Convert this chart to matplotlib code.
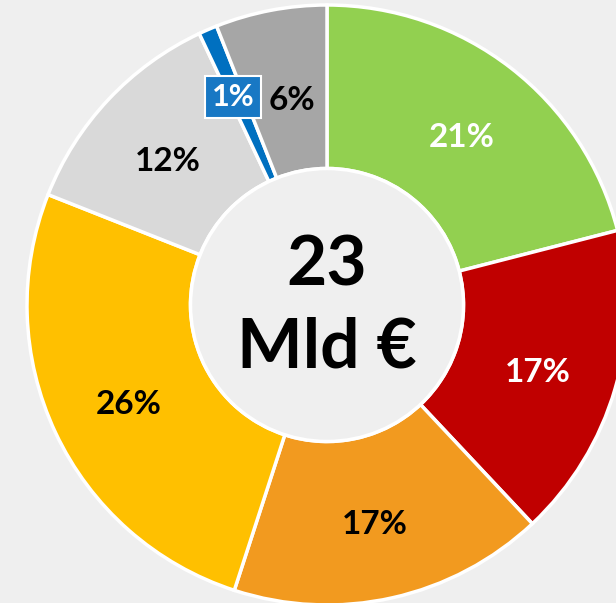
import matplotlib
matplotlib.use("Agg")
import matplotlib.pyplot as plt
from matplotlib.patches import Circle
import matplotlib.transforms as mtransforms

plt.rcParams['font.family'] = ['Lato', 'DejaVu Sans']

categories = ["A", "B", "C", "D", "E", "F", "G"]
values = [21, 17, 17, 26, 12, 1, 6]
colors = ["#92d050", "#c00000", "#f29a1f", "#ffc000", "#d9d9d9", "#0070c0", "#a6a6a6"]
label_colors = ["white", "white", "black", "black", "black", "white", "black"]
center_text = "23\nMld €"
bg = "#efefef"

fig = plt.figure(figsize=(6.16, 6.03), dpi=100, facecolor=bg)
ax = fig.add_axes([0, 0, 1, 1])
ax.set_facecolor(bg)

wedges, texts, autotexts = ax.pie(
    values, colors=colors, startangle=90, counterclock=False, radius=1.0,
    autopct=lambda p: f"{round(p)}%", pctdistance=0.73,
    wedgeprops=dict(width=0.545, edgecolor="white", linewidth=2.5),
    textprops=dict(fontsize=24, fontweight="bold"))

# pixel nudges of the data labels (label placement style)
nudges = [(0, -6), (0, -6), (0, -6), (0, -6), (0, -6), (-7, 7), (6, -11)]
for t, c, col, (nx, ny) in zip(autotexts, label_colors, colors, nudges):
    t.set_color(c)
    t.set_transform(ax.transData + mtransforms.ScaledTranslation(nx / 100, ny / 100, fig.dpi_scale_trans))
    if col == "#0070c0":
        t.set_fontsize(22)
        t.set_bbox(dict(boxstyle="square,pad=0.22", facecolor="#1878c4",
                        edgecolor="white", linewidth=1.5))
        t.set_zorder(10)

ax.add_patch(Circle((0, 0), 0.455, facecolor=bg, edgecolor="white", linewidth=2.5, zorder=5))
ax.text(0, 0, center_text, ha="center", va="center", fontsize=50,
        fontweight="bold", linespacing=1.36, zorder=6,
        transform=ax.transData + mtransforms.ScaledTranslation(0, -2 / 100, fig.dpi_scale_trans))

ax.set_aspect("equal")
ax.set_xlim(-327 / 300, (616 - 327) / 300)
ax.set_ylim(-(603 - 305) / 300, 305 / 300)
ax.axis("off")

fig.savefig("out.png", dpi=100, facecolor=bg)
